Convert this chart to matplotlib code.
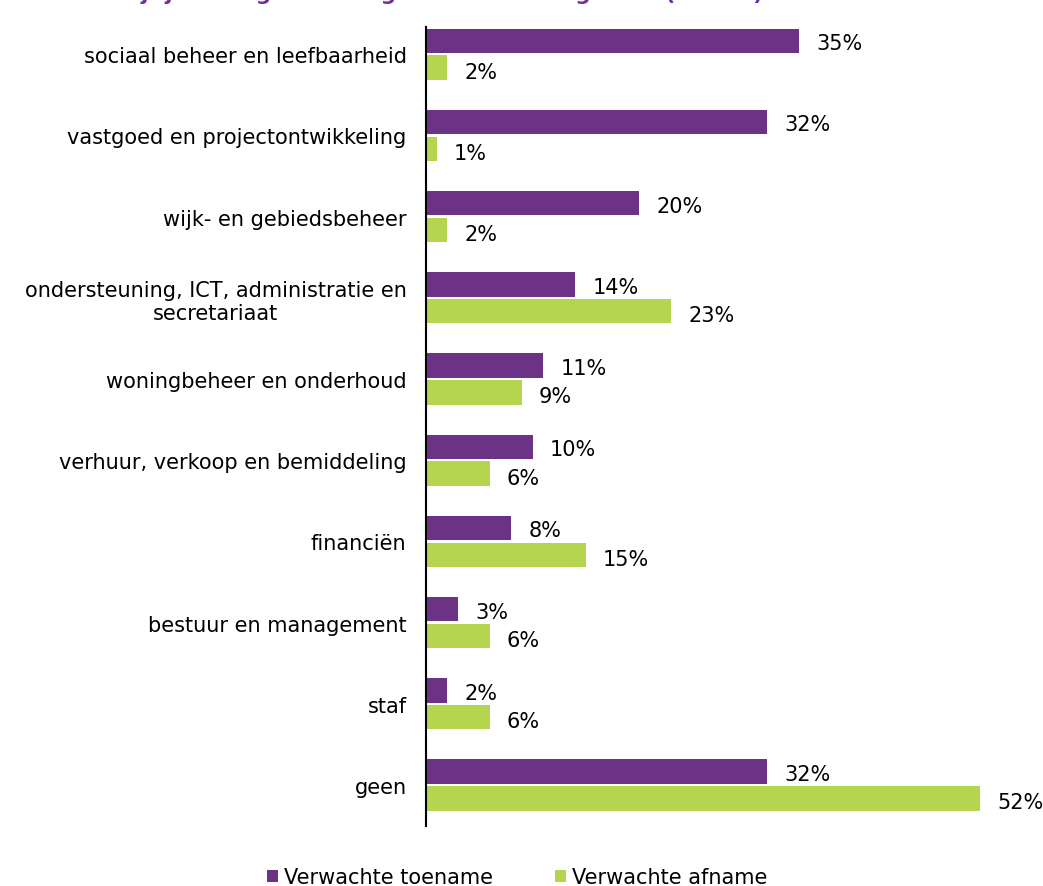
import matplotlib.pyplot as plt
import numpy as np

plt.rcParams['font.family'] = ['DejaVu Sans']

categories = ['sociaal beheer en leefbaarheid', 'vastgoed en projectontwikkeling',
              'wijk- en gebiedsbeheer', 'ondersteuning, ICT, administratie en\nsecretariaat',
              'woningbeheer en onderhoud', 'verhuur, verkoop en bemiddeling',
              'financiën', 'bestuur en management', 'staf', 'geen']
toename = [35, 32, 20, 14, 11, 10, 8, 3, 2, 32]
afname = [2, 1, 2, 23, 9, 6, 15, 6, 6, 52]

purple = '#6c3285'
green = '#b5d44f'

fig = plt.figure(figsize=(10.43, 8.87), dpi=100)
ax = fig.add_axes([0.4084, 0.0676, 0.562, 0.9008])

y = np.arange(len(categories))
h = 0.30
off = 0.165
b1 = ax.barh(y - off, toename, height=h, color=purple, label='Verwachte toename')
b2 = ax.barh(y + off, afname, height=h, color=green, label='Verwachte afname')

# value labels next to the bars
for v, yy in zip(toename, y - off):
    ax.text(v + 1.6, yy + 0.03, f'{v}%', va='center', ha='left', fontsize=15)
for v, yy in zip(afname, y + off):
    ax.text(v + 1.6, yy + 0.05, f'{v}%', va='center', ha='left', fontsize=15)

ax.set_ylim(9.505, -0.335)
ax.set_xlim(0, 55)
ax.set_yticks(y)
ax.set_yticklabels(categories, fontsize=15, ha='right', multialignment='center')
ax.tick_params(axis='y', length=0, pad=14)
ax.set_xticks([])
for s in ['top', 'right', 'bottom']:
    ax.spines[s].set_visible(False)
ax.spines['left'].set_linewidth(1.5)

fig.text(0.423, 1.0005, 'vijf jaar volgens werkgevers naar vakgebied (n=124)',
         ha='center', va='baseline', fontsize=15.5, fontweight='bold', color='#7030a0')

fig.legend(handles=[b1, b2], loc='center', bbox_to_anchor=(0.496, 0.01), ncol=2,
           frameon=False, fontsize=15, handlelength=0.5, handleheight=0.5,
           handletextpad=0.3, columnspacing=3.0)

fig.savefig('out.png', dpi=100)
